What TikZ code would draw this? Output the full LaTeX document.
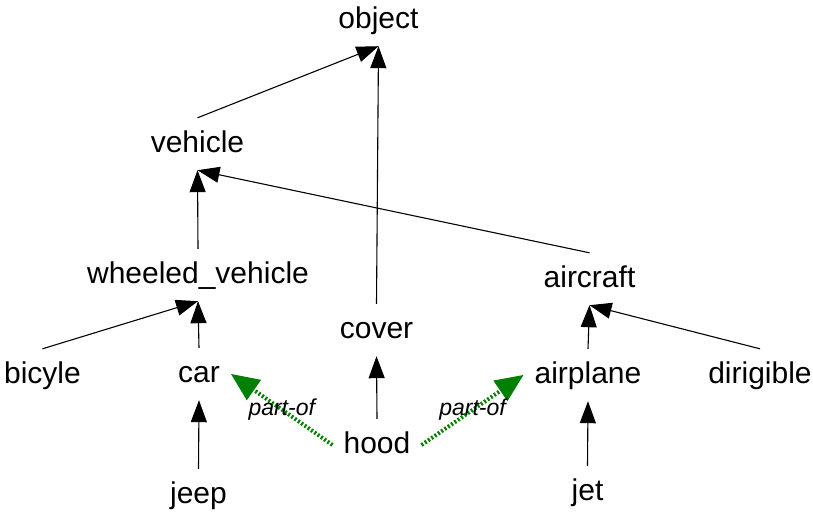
\documentclass[tikz,border=0pt]{standalone}
\usepackage{fontspec}
\setmainfont{Liberation Sans}
\usetikzlibrary{arrows.meta}
\definecolor{pgreen}{RGB}{0,128,0}
\begin{document}
\begin{tikzpicture}[x=1pt,y=-1pt,
  cls/.style={font=\fontsize{30}{36}\selectfont, text height=22pt, text depth=6pt,
    inner xsep=11pt, inner ysep=12pt},
  isa/.style={line width=1.1pt, -{Triangle[length=22pt,width=16pt]}},
  partof/.style={pgreen, line width=4pt, dash pattern=on 2pt off 2pt,
    -{Triangle[length=28pt,width=25pt,line width=0pt]}},
  lbl/.style={font=\fontsize{23}{28}\selectfont\itshape, text=black, inner sep=0pt}]
\useasboundingbox (0,0) rectangle (813,514);
\node[cls] (object) at (378.5,20) {object};
\node[cls] (vehicle) at (197.5,144) {vehicle};
\node[cls] (wheeled) at (198,275) {wheeled\_vehicle};
\node[cls] (aircraft) at (589.5,279) {aircraft};
\node[cls] (cover) at (376.5,330) {cover};
\node[cls] (bicyle) at (42.5,375) {bicyle};
\node[cls] (car) at (199,374) {car};
\node[cls] (airplane) at (588,375) {airplane};
\node[cls] (dirigible) at (760,375) {dirigible};
\node[cls] (hood) at (377,445) {hood};
\node[cls] (jeep) at (198.5,495) {jeep};
\node[cls] (jet) at (587.5,492) {jet};
\draw[isa] (vehicle.north) -- (object.south);
\draw[isa] (cover.north) -- (object.south);
\draw[isa] (wheeled.north) -- (vehicle.south);
\draw[isa] (aircraft.north) -- (vehicle.south);
\draw[isa] (bicyle.north) -- (wheeled.south);
\draw[isa] (car.north) -- (wheeled.south);
\draw[isa] (airplane.north) -- (aircraft.south);
\draw[isa] (dirigible.north) -- (aircraft.south);
\draw[isa] (hood.north) -- (cover.south);
\draw[isa] (jeep.north) -- (car.south);
\draw[isa] (jet.north) -- (airplane.south);
\draw[partof] (hood.west) -- node[lbl] (l1) {part-of} (car.east);
\draw[partof] (hood.east) -- node[lbl] (l2) {part-of} (airplane.west);
\end{tikzpicture}
\end{document}
